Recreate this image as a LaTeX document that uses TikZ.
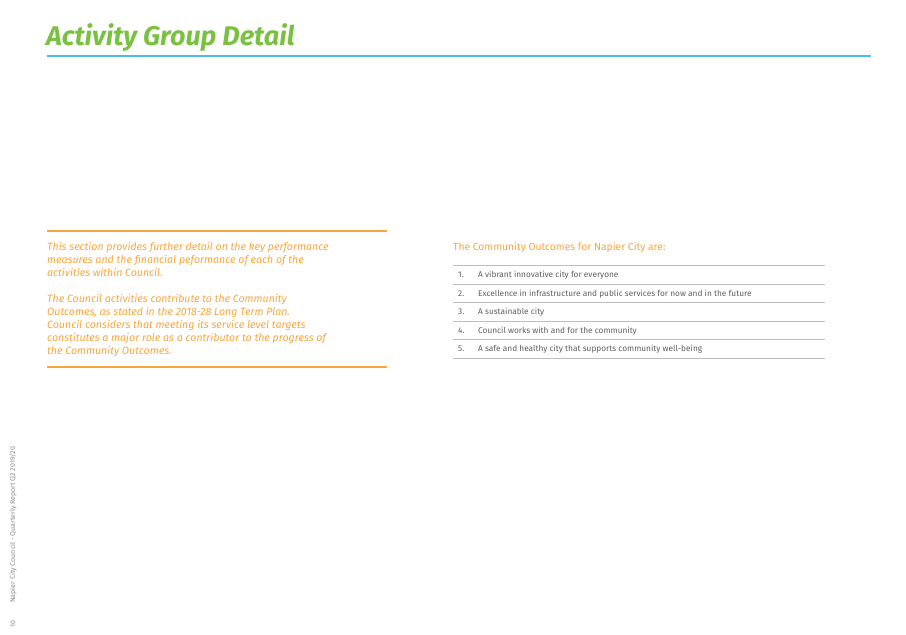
\documentclass[tikz,border=0pt]{standalone}
\usepackage{fontspec}
\setmainfont{Fira Sans}
\usetikzlibrary{positioning}
\definecolor{titlegreen}{RGB}{122,193,66}
\definecolor{ruleblue}{RGB}{75,190,230}
\definecolor{introorange}{RGB}{247,166,60}
\definecolor{listgrey}{RGB}{95,95,95}
\begin{document}
\begin{tikzpicture}[x=1pt,y=-1pt,
  intro/.style={anchor=base west,inner sep=0pt,font=\fontsize{10.6}{13}\itshape\selectfont,text=introorange},
  item/.style={anchor=base west,inner sep=0pt,font=\fontsize{8.3}{10}\selectfont,text=listgrey},
  sep/.style={draw=black!25,line width=0.6pt}]
\useasboundingbox (0,0) rectangle (906,635);
%title and rule
\node[anchor=base west,inner sep=0pt,font=\fontsize{27}{30}\bfseries\itshape\selectfont,text=titlegreen] (title) at (46,45) {Activity Group Detail};
\draw[ruleblue,line width=2pt] (47,56) -- (871,56);
%intro box
\draw[introorange,line width=2pt] (47,231) -- (387,231);
\draw[introorange,line width=2pt] (47,367) -- (387,367);
\node[intro] (introa) at (47,250) {This section provides further detail on the key performance};
\node[intro] (introb) at (47,263) {measures and the financial peformance of each of the};
\node[intro] (introc) at (47,276) {activities within Council.};
\node[intro] (introd) at (47,302) {The Council activities contribute to the Community};
\node[intro] (introe) at (47,315) {Outcomes, as stated in the 2018-28 Long Term Plan.};
\node[intro] (introf) at (47,328) {Council considers that meeting its service level targets};
\node[intro] (introg) at (47,341) {constitutes a major role as a contributor to the progress of};
\node[intro] (introh) at (47,354) {the Community Outcomes.};
%outcomes list
\node[anchor=base west,inner sep=0pt,font=\fontsize{10.3}{12}\selectfont,text=introorange] (outhead) at (453,250) {The Community Outcomes for Napier City are:};
\foreach \y in {265,284,302.5,321,339.5,358}{
  \draw[sep] (453,\y) -- (825,\y);
}
\foreach \n/\y/\t in {1/277/A vibrant innovative city for everyone,
  2/296/Excellence in infrastructure and public services for now and in the future,
  3/314.5/A sustainable city,
  4/333/Council works with and for the community,
  5/351.5/A safe and healthy city that supports community well-being}{
  \node[item] (num\n) at (458,\y) {\n.};
  \node[item] (out\n) at (478,\y) {\t};
}
%footer
\node[anchor=west,rotate=90,inner sep=0pt,font=\fontsize{7}{8}\selectfont,text=black!45] (footer) at (13,603) {Napier City Council - Quarterly Report Q2 2019/20};
\node[anchor=west,rotate=90,inner sep=0pt,font=\fontsize{7}{8}\selectfont,text=black!45] (pageno) at (13,628) {10};
\end{tikzpicture}
\end{document}
